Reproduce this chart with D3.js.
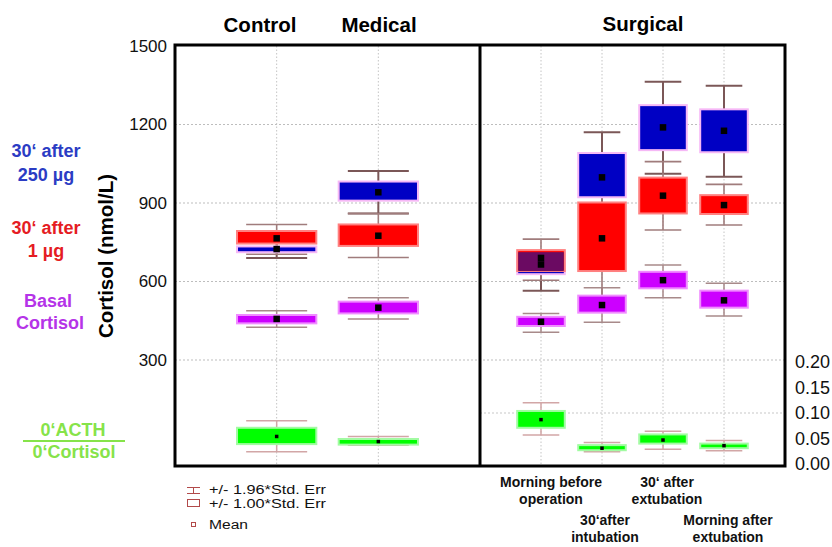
<!DOCTYPE html>
<html>
<head>
<meta charset="utf-8">
<script src="https://cdn.jsdelivr.net/npm/d3@7"></script>
<style>
  body { margin: 0; background: #fff; }
  svg { display: block; font-family: "Liberation Sans", Arial, sans-serif; }
</style>
</head>
<body>
<svg id="chart" width="832" height="547"></svg>
<script>
// categories
const leftCats = ["Control", "Medical"];
const rightCats = ["Morning before operation", "30‘after intubation", "30‘ after extubation", "Morning after extubation"];
const categories = leftCats.concat(rightCats);
const rightCatLabels = [["Morning before", "operation"], ["30‘after", "intubation"], ["30‘ after", "extubation"], ["Morning after", "extubation"]];

// tick labels
const cortisolTicks = [300, 600, 900, 1200, 1500];
const ratioTicks = [0, 0.05, 0.10, 0.15, 0.20];

// 30' after 250 µg (nmol/L): mean, +/-1 SE box, +/-1.96 SE whiskers
const acth250Mean = [724, 941, 665, 998, 1189, 1176];
const acth250Box = [[712, 734], [909, 982], [628, 712], [922, 1091], [1102, 1274], [1094, 1258]];
const acth250Whisk = [[690, 755], [860, 1022], [565, 715], [832, 1170], [1012, 1363], [1000, 1348]];

// 30' after 1 µg
const acth1Mean = [765, 775, 690, 765, 928, 892];
const acth1Box = [[745, 793], [736, 818], [640, 720], [640, 902], [860, 997], [858, 930]];
const acth1Whisk = [[704, 818], [692, 860], [605, 762], [505, 1025], [797, 1058], [816, 971]];

// basal cortisol
const basalMean = [457, 500, 446, 510, 605, 528];
const basalBox = [[440, 472], [478, 523], [430, 465], [481, 546], [574, 637], [500, 565]];
const basalWhisk = [[425, 488], [457, 538], [406, 478], [444, 576], [538, 663], [468, 593]];

// 0' ACTH / 0' cortisol ratio (right axis)
const ratioMean = [0.054, 0.044, 0.087, 0.031, 0.047, 0.036];
const ratioBox = [[0.039, 0.071], [0.038, 0.049], [0.071, 0.104], [0.027, 0.037], [0.040, 0.058], [0.031, 0.040]];
const ratioWhisk = [[0.024, 0.085], [0.037, 0.054], [0.057, 0.120], [0.024, 0.042], [0.029, 0.064], [0.026, 0.046]];

const svg = d3.select("#chart");
const plotLeft = 175, plotRight = 785, divider = 480, plotTop = 46, plotBottom = 466;

// d3 scales
const y = d3.scaleLinear().domain([300, 1500]).range([360, plotTop]);
const yRatio = d3.scaleLinear().domain([0, 0.2]).range([464, 362]);
const xLeft = d3.scalePoint().domain(leftCats).range([plotLeft, divider]).padding(1);
const xRight = d3.scalePoint().domain(rightCats).range([divider, plotRight]).padding(1);
const xOf = c => leftCats.includes(c) ? xLeft(c) : xRight(c);
const stepOf = c => leftCats.includes(c) ? xLeft.step() : xRight.step();

// grid
const grid = svg.append("g").attr("fill", "none");
grid.selectAll(null)
  .data(cortisolTicks.filter(t => t < 1500))
  .enter().append("line")
  .attr("x1", plotLeft).attr("x2", plotRight)
  .attr("y1", d => y(d)).attr("y2", d => y(d))
  .attr("stroke", "#bdbdbd").attr("stroke-width", 1.2).attr("stroke-dasharray", "2,2");
grid.append("line")
  .attr("x1", divider).attr("x2", plotRight)
  .attr("y1", yRatio(0.1)).attr("y2", yRatio(0.1))
  .attr("stroke", "#c8c8c8").attr("stroke-width", 1.2).attr("stroke-dasharray", "2,2");
grid.selectAll(null)
  .data(categories)
  .enter().append("line")
  .attr("x1", d => xOf(d)).attr("x2", d => xOf(d))
  .attr("y1", plotTop).attr("y2", plotBottom)
  .attr("stroke", "#c4c4c4").attr("stroke-width", 1).attr("stroke-dasharray", "1.5,2");

// series styles
const series = [
  { mean: ratioMean, box: ratioBox, whisk: ratioWhisk, scale: yRatio, fill: "#00ff00", edge: "#a2fba2", whiskColor: "#d2a6a6", whiskWidth: 1.5, mark: 3.5 },
  { mean: basalMean, box: basalBox, whisk: basalWhisk, scale: y, fill: "#cc00ff", edge: "#f08cff", whiskColor: "#a88a8a", whiskWidth: 1.5, mark: 6.5 },
  { mean: acth250Mean, box: acth250Box, whisk: acth250Whisk, scale: y, fill: "#0000c4", edge: "#f6b8f6", whiskColor: "#7b5757", whiskWidth: 2, mark: 6.5 },
  { mean: acth1Mean, box: acth1Box, whisk: acth1Whisk, scale: y, fill: "#ff0000", edge: "#ff8080", whiskColor: "#a07c7c", whiskWidth: 1.6, mark: 6.5 }
];
series.forEach(s => {
  s.rows = categories.map((c, i) => ({
    x: xOf(c), step: stepOf(c),
    mean: s.mean[i], lo: s.box[i][0], hi: s.box[i][1],
    wlo: s.whisk[i][0], whi: s.whisk[i][1]
  }));
});

const gWhisk = svg.append("g");
const gBox = svg.append("g");
const gMean = svg.append("g");

// whiskers (+/- 1.96 SE)
series.forEach(s => {
  const w = gWhisk.selectAll(null)
    .data(s.rows)
    .enter().append("g")
    .attr("stroke", s.whiskColor)
    .attr("stroke-width", s.whiskWidth);
  w.append("line")
    .attr("x1", d => d.x).attr("x2", d => d.x)
    .attr("y1", d => s.scale(d.wlo)).attr("y2", d => s.scale(d.whi));
  ["wlo", "whi"].forEach(k => {
    w.append("line")
      .attr("x1", d => d.x - d.step * 0.3).attr("x2", d => d.x + d.step * 0.3)
      .attr("y1", d => s.scale(d[k])).attr("y2", d => s.scale(d[k]));
  });
});

// boxes (+/- 1 SE)
series.forEach(s => {
  gBox.selectAll(null)
    .data(s.rows)
    .enter().append("rect")
    .attr("x", d => d.x - d.step * 0.39)
    .attr("width", d => d.step * 0.78)
    .attr("y", d => s.scale(d.hi))
    .attr("height", d => s.scale(d.lo) - s.scale(d.hi))
    .attr("fill", s.fill)
    .attr("stroke", s.edge)
    .attr("stroke-width", 2);
});

// where the 1 µg and 250 µg boxes overlap the colours mix
gBox.selectAll(null)
  .data(categories.map((c, i) => ({
    x: xOf(c), step: stepOf(c),
    lo: Math.max(acth1Box[i][0], acth250Box[i][0]),
    hi: Math.min(acth1Box[i][1], acth250Box[i][1])
  })).filter(d => d.hi > d.lo))
  .enter().append("rect")
  .attr("x", d => d.x - d.step * 0.39 + 1)
  .attr("width", d => d.step * 0.78 - 2)
  .attr("y", d => y(d.hi))
  .attr("height", d => y(d.lo) - y(d.hi))
  .attr("fill", "#6b0a62");

// means
series.forEach(s => {
  gMean.selectAll(null)
    .data(s.rows)
    .enter().append("rect")
    .attr("x", d => d.x - s.mark / 2)
    .attr("y", d => s.scale(d.mean) - s.mark / 2)
    .attr("width", s.mark)
    .attr("height", s.mark)
    .attr("fill", "#000");
});

// frame
const frame = svg.append("g").attr("fill", "none").attr("stroke", "#000").attr("stroke-width", 3);
frame.append("rect").attr("x", plotLeft).attr("y", plotTop - 1).attr("width", plotRight - plotLeft).attr("height", plotBottom - plotTop + 1);
frame.append("line").attr("x1", divider).attr("x2", divider).attr("y1", plotTop - 1).attr("y2", plotBottom);

// axes
const axisL = svg.append("g")
  .attr("transform", `translate(${plotLeft},0)`)
  .call(d3.axisLeft(y).tickValues(cortisolTicks).tickFormat(d3.format("d")).tickSize(0).tickPadding(8));
axisL.select(".domain").remove();
axisL.selectAll("text").style("font-size", "17px").attr("fill", "#111").attr("font-family", "Liberation Sans, Arial");

const axisR = svg.append("g")
  .attr("transform", `translate(${plotRight},0)`)
  .call(d3.axisRight(yRatio).tickValues(ratioTicks).tickFormat(d3.format(".2f")).tickSize(0).tickPadding(10));
axisR.select(".domain").remove();
axisR.selectAll("text").style("font-size", "18px").attr("fill", "#111").attr("font-family", "Liberation Sans, Arial");

svg.append("text")
  .attr("transform", "translate(113,256) rotate(-90)")
  .attr("text-anchor", "middle")
  .style("font-size", "20.5px").style("font-weight", "bold")
  .text("Cortisol (nmol/L)");

// group titles
const titles = svg.append("g").style("font-size", "20.5px").style("font-weight", "bold").attr("text-anchor", "middle");
titles.append("text").attr("x", 260).attr("y", 32).text("Control");
titles.append("text").attr("x", 379).attr("y", 32).text("Medical");
titles.append("text").attr("x", 643).attr("y", 31).text("Surgical");

// surgical time points
const labelDx = [10, 3, 4, 4];
const xLab = svg.append("g").style("font-size", "14px").style("font-weight", "bold").attr("text-anchor", "middle").attr("fill", "#111");
rightCats.forEach((c, i) => {
  const t = xLab.append("text")
    .attr("x", xRight(c) + labelDx[i])
    .attr("y", i % 2 === 0 ? 487 : 525);
  rightCatLabels[i].forEach((line, k) => {
    t.append("tspan").attr("x", xRight(c) + labelDx[i]).attr("dy", k ? 17 : 0).text(line);
  });
});

// series labels on the left
const side = svg.append("g").style("font-size", "18px").style("font-weight", "bold").attr("text-anchor", "middle");
side.append("text").attr("x", 46).attr("y", 157).attr("fill", "#2b3cc4").text("30‘ after");
side.append("text").attr("x", 46).attr("y", 181).attr("fill", "#2b3cc4").text("250 µg");
side.append("text").attr("x", 46).attr("y", 234).attr("fill", "#e51c23").text("30‘ after");
side.append("text").attr("x", 46).attr("y", 257).attr("fill", "#e51c23").text("1 µg");
side.append("text").attr("x", 48).attr("y", 307).attr("fill", "#b534e8").text("Basal");
side.append("text").attr("x", 50).attr("y", 329).attr("fill", "#b534e8").text("Cortisol");
side.append("text").attr("x", 73).attr("y", 436).attr("fill", "#86e34a").text("0‘ACTH");
side.append("line").attr("x1", 23).attr("x2", 125).attr("y1", 441).attr("y2", 441).attr("stroke", "#86e34a").attr("stroke-width", 2);
side.append("text").attr("x", 74).attr("y", 458).attr("fill", "#86e34a").text("0‘Cortisol");

// legend
const legend = svg.append("g");
const lc = "#b24a4a";
legend.append("line").attr("x1", 187).attr("x2", 200).attr("y1", 487.5).attr("y2", 487.5).attr("stroke", lc);
legend.append("line").attr("x1", 187).attr("x2", 200).attr("y1", 493.5).attr("y2", 493.5).attr("stroke", lc);
legend.append("line").attr("x1", 193.5).attr("x2", 193.5).attr("y1", 487.5).attr("y2", 493.5).attr("stroke", lc);
legend.append("rect").attr("x", 187.5).attr("y", 499.5).attr("width", 12).attr("height", 7).attr("fill", "none").attr("stroke", lc);
legend.append("rect").attr("x", 191.5).attr("y", 522.5).attr("width", 4).attr("height", 4).attr("fill", "none").attr("stroke", lc);
const legItems = [["+/- 1.96*Std. Err", 493.5, 117], ["+/- 1.00*Std. Err", 508, 117], ["Mean", 528.5, 39]];
legend.selectAll(null)
  .data(legItems)
  .enter().append("text")
  .attr("x", 209)
  .attr("y", d => d[1])
  .attr("textLength", d => d[2])
  .attr("lengthAdjust", "spacingAndGlyphs")
  .style("font-size", "12.5px")
  .attr("fill", "#111")
  .text(d => d[0]);
</script>
</body>
</html>
